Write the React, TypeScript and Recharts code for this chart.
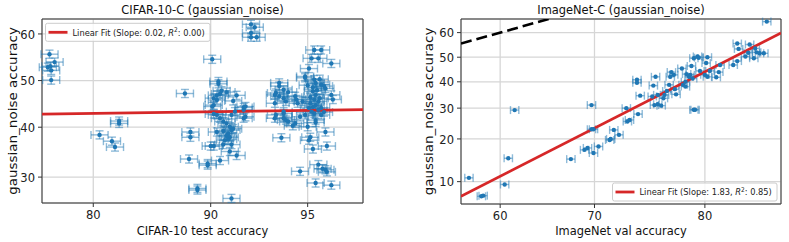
import React from "react";
import {
  ScatterChart,
  Scatter,
  XAxis,
  YAxis,
  CartesianGrid,
  ErrorBar,
  ReferenceLine,
  ReferenceArea,
} from "recharts";

// [clean test accuracy, gaussian_noise accuracy] in %
const cifarPoints = [
  [75.1, 55.7], [75.7, 54.0], [74.9, 52.9], [75.3, 52.2], [75.3, 50.1], [75.2, 53.1],
  [82.6, 41.3], [82.6, 40.8], [80.65, 38.4], [81.9, 37.1], [82.2, 35.9],
  [88.2, 47.2], [88.6, 39.0], [88.6, 37.9], [88.5, 33.5], [89.1, 27.9], [89.1, 27.6],
  [89.8, 32.6], [89.8, 32.3], [90.1, 54.6], [90.0, 36.1], [90.2, 36.1], [90.6, 33.2],
  [91.3, 26.1], [90.5, 49.8], [90.5, 49.3], [90.7, 47.8], [90.6, 47.1], [91.0, 47.5],
  [91.6, 46.8], [90.2, 44.7], [90.1, 44.4], [90.4, 45.8], [91.4, 45.6], [92.0, 44.2],
  [92.0, 43.7], [90.2, 42.8], [90.4, 42.6], [90.6, 41.9], [92.0, 41.9], [92.1, 42.2],
  [90.8, 41.2], [91.0, 40.8], [91.2, 40.1], [91.3, 39.4], [91.4, 39.7], [90.4, 39.0],
  [90.8, 39.2], [91.1, 38.7], [91.0, 38.2], [91.2, 37.9], [90.9, 37.3], [91.1, 37.5],
  [90.8, 36.4], [91.3, 36.4], [91.2, 35.0], [91.6, 34.2], [91.3, 42.6], [91.5, 43.3],
  [92.1, 44.4], [90.2, 46.2], [90.4, 46.8],
  [92.4, 62.0], [92.6, 61.4], [92.4, 60.2], [92.4, 59.3], [92.7, 59.3],
  [95.25, 56.6], [95.5, 56.6], [95.15, 54.8], [95.4, 54.8], [95.85, 53.7], [95.05, 52.6],
  [94.9, 50.9], [94.9, 50.6], [95.25, 50.2], [95.3, 49.5], [93.8, 49.5], [93.8, 48.8],
  [93.6, 46.9], [93.65, 47.3], [94.0, 48.0], [94.2, 47.5], [94.5, 46.6], [94.55, 45.9],
  [95.5, 49.1], [95.6, 48.8], [95.65, 48.3], [95.2, 47.7], [95.3, 46.9], [95.25, 45.9],
  [95.3, 44.7], [95.1, 45.1], [95.85, 46.9], [95.9, 45.9], [94.0, 46.2], [94.1, 45.5],
  [94.6, 45.1], [94.8, 45.5], [93.6, 45.1], [93.8, 46.6],
  [94.0, 43.3], [94.0, 41.9], [94.1, 41.5], [94.2, 41.2], [94.4, 40.3], [94.5, 40.8],
  [95.0, 40.1], [95.3, 41.5], [95.25, 42.9], [95.65, 39.0], [93.9, 37.8], [95.1, 37.9],
  [95.05, 37.3], [95.7, 36.1], [95.2, 35.5], [95.4, 32.4], [95.55, 31.6], [95.65, 31.4],
  [95.7, 31.0], [94.7, 31.1], [95.3, 28.9], [95.85, 28.5], [93.6, 41.9], [93.65, 42.6],
  [94.0, 42.9], [94.7, 42.2], [94.9, 42.6], [95.05, 44.1], [95.4, 43.7], [95.5, 44.1],
  [95.2, 48.5], [95.35, 47.9], [95.1, 46.4], [95.45, 46.2], [95.2, 44.3], [95.4, 45.5],
  [95.15, 43.3], [95.5, 42.6], [95.3, 41.0], [95.6, 43.2], [95.0, 49.0], [95.45, 50.3],
];

const imagenetPoints = [
  [56.5, 10.7], [58.1, 7.7], [57.9, 7.6], [60.5, 9.5], [60.9, 14.9], [61.6, 29.3],
  [67.6, 14.7], [69.0, 17.0], [69.3, 17.5], [69.9, 16.2], [70.4, 17.9], [69.7, 31.1],
  [69.7, 22.9], [69.9, 22.9], [71.5, 19.7], [71.6, 20.0], [71.9, 22.7], [72.4, 21.2],
  [73.4, 25.9], [73.2, 25.4], [74.2, 27.9], [73.1, 30.0], [74.4, 34.6], [74.1, 40.8],
  [74.1, 39.6], [75.5, 34.3], [76.0, 34.9], [75.7, 31.1], [76.0, 31.4], [76.3, 30.9],
  [75.6, 38.5], [75.8, 42.0], [76.5, 33.6], [76.6, 34.9], [77.0, 38.8], [76.8, 36.4],
  [77.2, 43.9], [77.4, 42.8], [77.1, 42.0], [77.6, 35.1], [77.5, 37.1], [78.1, 45.4],
  [78.2, 38.8], [78.4, 38.1], [78.5, 43.1], [78.7, 42.0], [78.8, 42.8], [79.0, 41.3],
  [78.4, 40.0], [78.9, 46.4], [79.1, 49.6], [79.4, 50.3], [79.5, 49.8], [79.1, 29.4],
  [79.2, 29.4], [79.6, 44.4], [80.1, 47.6], [80.2, 50.0], [80.0, 42.8], [80.2, 42.0],
  [80.4, 44.4], [80.9, 41.8], [81.1, 43.9], [81.2, 46.8], [82.2, 46.8], [82.5, 48.4],
  [82.5, 55.6], [82.6, 53.4], [83.1, 50.3], [83.3, 51.8], [83.7, 49.6], [83.9, 52.0],
  [84.1, 51.6], [84.4, 51.6], [84.6, 64.3], [83.8, 53.6], [83.4, 55.2],
];

const cifarXTicks = [80, 90, 95];
const cifarYTicks = [30, 40, 50, 60];
const imagenetXTicks = [60, 70, 80];
const imagenetYTicks = [10, 20, 30, 40, 50, 60];

// axis limits (%)
const cifarXLim = [74.2, 96.8];
const cifarYLim = [25.3, 63.1];
const imagenetXLim = [55.6, 85.55];
const imagenetYLim = [6.53, 65.3];

// linear fits in probit space
const cifarFit = { slope: 0.02, intercept: -0.195 };
const imagenetFit = { slope: 1.83, intercept: -1.69 };

// inverse normal CDF (Acklam)
function probit(p: number) {
  const a = [-39.69683028665376, 220.9460984245205, -275.9285104469687, 138.357751867269, -30.66479806614716, 2.506628277459239];
  const b = [-54.47609879822406, 161.5858368580409, -155.6989798598866, 66.80131188771972, -13.28068155288572];
  const c = [-0.007784894002430293, -0.3223964580411365, -2.400758277161838, -2.549732539343734, 4.374664141464968, 2.938163982698783];
  const d = [0.007784695709041462, 0.3224671290700398, 2.445134137142996, 3.754408661907416];
  const plow = 0.02425;
  if (p < plow) {
    const q = Math.sqrt(-2 * Math.log(p));
    return (((((c[0] * q + c[1]) * q + c[2]) * q + c[3]) * q + c[4]) * q + c[5]) /
      ((((d[0] * q + d[1]) * q + d[2]) * q + d[3]) * q + 1);
  }
  if (p <= 1 - plow) {
    const q = p - 0.5;
    const r = q * q;
    return ((((((a[0] * r + a[1]) * r + a[2]) * r + a[3]) * r + a[4]) * r + a[5]) * q) /
      (((((b[0] * r + b[1]) * r + b[2]) * r + b[3]) * r + b[4]) * r + 1);
  }
  const q = Math.sqrt(-2 * Math.log(1 - p));
  return -(((((c[0] * q + c[1]) * q + c[2]) * q + c[3]) * q + c[4]) * q + c[5]) /
    ((((d[0] * q + d[1]) * q + d[2]) * q + d[3]) * q + 1);
}
const z = (acc: number) => probit(acc / 100);

const FONT = "DejaVu Sans";
const BLUE = "#1f77b4";
const RED = "#d62728";

const label = (labels: number[], v: number) => {
  const t = labels.find((l) => Math.abs(z(l) - v) < 1e-9);
  return t === undefined ? "" : String(t);
};

function Panel(props: any) {
  const { points, xLim, yLim, xTicks, yTicks, fit, diagonal, ex, ey, width, yAxisWidth, marginRight, xAxisHeight } = props;
  const data = points.map(([a, b]: number[]) => ({ x: z(a), y: z(b), ex, ey }));
  const x0 = z(xLim[0]);
  const x1 = z(xLim[1]);
  const y0 = z(yLim[0]);
  const y1 = z(yLim[1]);

  return (
    <ScatterChart width={width} height={242} margin={{ top: 19, right: marginRight, bottom: 0, left: 0 }}>
      <CartesianGrid stroke="#d6d6d6" strokeWidth={1.3} />
      <XAxis
        type="number"
        dataKey="x"
        domain={[x0, x1]}
        allowDataOverflow
        ticks={xTicks.map(z)}
        interval={0}
        height={xAxisHeight}
        axisLine={false}
        tickLine={{ stroke: "#333" }}
        tickSize={4}
        tickMargin={3}
        tick={(p: any) => (
          <text
            key={p.index}
            transform={`translate(${p.x},${p.y}) scale(0.9,1)`}
            textAnchor="middle"
            dy="0.71em"
            fontSize={12.8}
            fontFamily={FONT}
            fill="#222"
          >
            {label(xTicks, p.payload.value)}
          </text>
        )}
      />
      <YAxis
        type="number"
        dataKey="y"
        domain={[y0, y1]}
        allowDataOverflow
        ticks={yTicks.map(z)}
        interval={0}
        width={yAxisWidth}
        axisLine={false}
        tickLine={{ stroke: "#333" }}
        tickSize={4}
        tickMargin={3}
        tick={(p: any) => (
          <text
            key={p.index}
            transform={`translate(${p.x},${p.y}) scale(0.9,1)`}
            textAnchor="end"
            dy="0.36em"
            fontSize={12.8}
            fontFamily={FONT}
            fill="#222"
          >
            {label(yTicks, p.payload.value)}
          </text>
        )}
      />
      <Scatter
        data={data}
        dataKey="y"
        isAnimationActive={false}
        shape={(p: any) => <circle cx={p.cx} cy={p.cy} r={2.2} fill={BLUE} />}
      >
        <ErrorBar dataKey="ex" direction="x" width={4} stroke={BLUE} strokeOpacity={0.5} strokeWidth={1.4} />
        {ey > 0 && (
          <ErrorBar dataKey="ey" direction="y" width={4} stroke={BLUE} strokeOpacity={0.5} strokeWidth={1.4} />
        )}
      </Scatter>
      {diagonal && (
        <ReferenceLine
          segment={[{ x: x0, y: x0 }, { x: x1, y: x1 }]}
          stroke="#000"
          strokeWidth={2.6}
          strokeDasharray="11 5"
          ifOverflow="hidden"
        />
      )}
      <ReferenceLine
        segment={[
          { x: x0, y: fit.intercept + fit.slope * x0 },
          { x: x1, y: fit.intercept + fit.slope * x1 },
        ]}
        stroke={RED}
        strokeWidth={2.8}
        ifOverflow="hidden"
      />
      <ReferenceArea x1={x0} x2={x1} y1={y0} y2={y1} fill="none" stroke="#333" strokeWidth={1} ifOverflow="visible" />
    </ScatterChart>
  );
}

function LegendBox({ x, y, slope, r2 }: { x: number; y: number; slope: string; r2: string }) {
  return (
    <g>
      <rect x={x} y={y} width={164.5} height={18} rx={2} fill="#fff" fillOpacity={0.8} stroke="#ccc" strokeWidth={1} />
      <line x1={x + 3} x2={x + 22} y1={y + 9} y2={y + 9} stroke={RED} strokeWidth={2.8} />
      <text transform={`translate(${x + 27},${y + 12.3}) scale(0.88,1)`} fontSize={9.4} fontFamily={FONT} fill="#222">
        {`Linear Fit (Slope: ${slope}, `}
        <tspan fontStyle="italic">R</tspan>
        <tspan dy={-3.6} fontSize={6.6}>2</tspan>
        <tspan dy={3.6}>{`: ${r2})`}</tspan>
      </text>
    </g>
  );
}

export default function App() {
  return (
    <div style={{ position: "absolute", left: 0, top: 0, width: 789, height: 242, background: "#fff", overflow: "hidden" }}>
      <div style={{ position: "absolute", left: 0, top: 0 }}>
        <Panel
          points={cifarPoints}
          xLim={cifarXLim}
          yLim={cifarYLim}
          xTicks={cifarXTicks}
          yTicks={cifarYTicks}
          fit={cifarFit}
          diagonal={false}
          ex={0.032}
          ey={0.022}
          width={395}
          yAxisWidth={42}
          marginRight={32}
          xAxisHeight={39}
        />
      </div>
      <div style={{ position: "absolute", left: 400, top: 0 }}>
        <Panel
          points={imagenetPoints}
          xLim={imagenetXLim}
          yLim={imagenetYLim}
          xTicks={imagenetXTicks}
          yTicks={imagenetYTicks}
          fit={imagenetFit}
          diagonal={true}
          ex={0.012}
          ey={0}
          width={389}
          yAxisWidth={61}
          marginRight={8}
          xAxisHeight={38}
        />
      </div>
      <svg width={789} height={242} style={{ position: "absolute", left: 0, top: 0, pointerEvents: "none" }}>
        <g fontFamily={FONT} fill="#111">
          <text transform="translate(202.5,14.3) scale(0.88,1)" textAnchor="middle" fontSize={13}>
            CIFAR-10-C (gaussian_noise)
          </text>
          <text transform="translate(621,14.3) scale(0.88,1)" textAnchor="middle" fontSize={13}>
            ImageNet-C (gaussian_noise)
          </text>
          <text transform="translate(202.5,235) scale(0.88,1)" textAnchor="middle" fontSize={13}>
            CIFAR-10 test accuracy
          </text>
          <text transform="translate(621,235) scale(0.88,1)" textAnchor="middle" fontSize={13}>
            ImageNet val accuracy
          </text>
          <text transform="translate(17,111) scale(0.88,1) rotate(-90)" textAnchor="middle" fontSize={13.5}>
            gaussian_noise accuracy
          </text>
          <text transform="translate(433,111.5) scale(0.88,1) rotate(-90)" textAnchor="middle" fontSize={13.5}>
            gaussian_noise accuracy
          </text>
        </g>
        <LegendBox x={45.5} y={23.3} slope="0.02" r2="0.00" />
        <LegendBox x={612.5} y={183} slope="1.83" r2="0.85" />
      </svg>
    </div>
  );
}
